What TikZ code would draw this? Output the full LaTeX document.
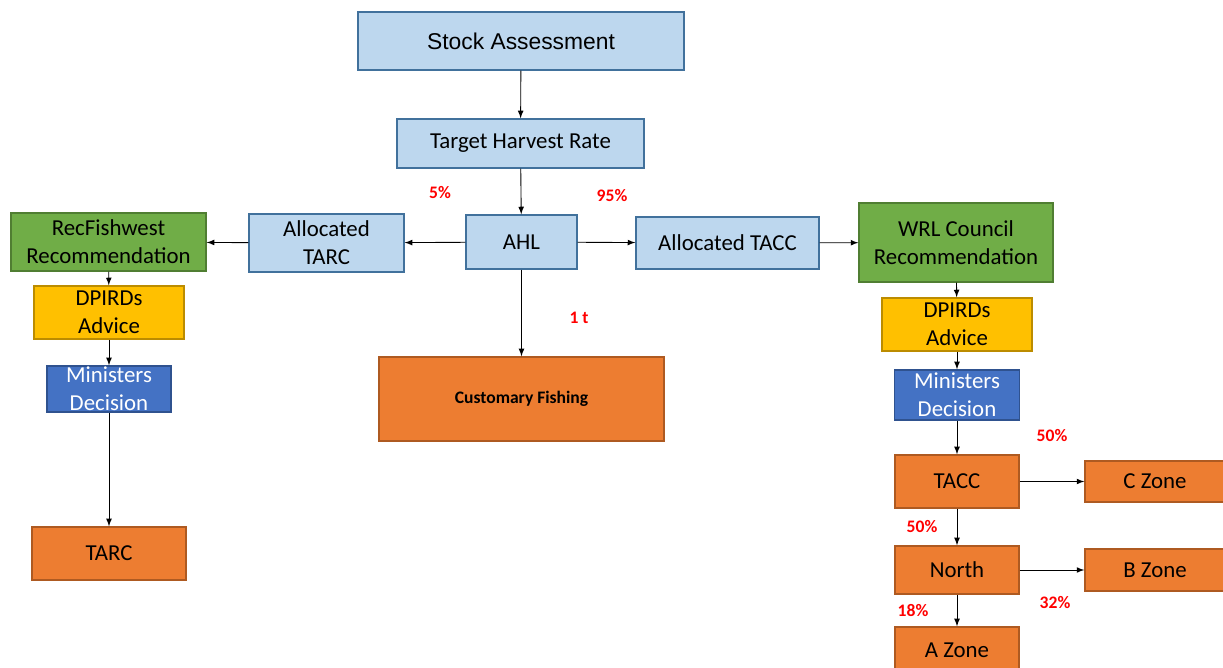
\documentclass[tikz,border=0pt]{standalone}
\usepackage{fontspec}
\setmainfont{Carlito}
\newfontfamily\arialfont{Liberation Sans}
\usepackage{tikz}

\definecolor{paleblue}{HTML}{BDD7EE}
\definecolor{paleblueline}{HTML}{41719C}
\definecolor{leafgreen}{HTML}{70AD47}
\definecolor{leafgreenline}{HTML}{507E32}
\definecolor{gold}{HTML}{FFC000}
\definecolor{goldline}{HTML}{BC8C00}
\definecolor{royal}{HTML}{4472C4}
\definecolor{royalline}{HTML}{2F528F}
\definecolor{tangerine}{HTML}{ED7D31}
\definecolor{tangerineline}{HTML}{AE5A21}

\begin{document}
\begin{tikzpicture}[%
	x=0.02cm, y=-0.02cm,
	box/.style = {shape=rectangle, draw, line width=0.8pt, inner sep=0pt, align=center,
		font=\fontsize{13}{16}\selectfont},
	pale/.style = {box, fill=paleblue, draw=paleblueline},
	leaf/.style = {box, fill=leafgreen, draw=leafgreenline},
	advice/.style = {box, fill=gold, draw=goldline},
	minister/.style = {box, fill=royal, draw=royalline, text=white},
	quota/.style = {box, fill=tangerine, draw=tangerineline},
	share/.style = {text=red, font=\fontsize{10}{12}\selectfont\bfseries},
	flow/.style = {draw, line width=0.5pt, -latex}
	]
  \useasboundingbox (0,0) rectangle (1223,668);
  \node [pale, minimum width=326*0.02cm, minimum height=58*0.02cm, font=\arialfont\fontsize{13}{16}\selectfont] (stock) at (521,41) {Stock Assessment};
  \node [pale, minimum width=247*0.02cm, minimum height=49*0.02cm] (thr) at (520.5,143.5) {Target Harvest Rate};
  \node [pale, minimum width=111*0.02cm, minimum height=54*0.02cm] (ahl) at (521.5,242) {AHL};
  \node [pale, minimum width=155*0.02cm, minimum height=58*0.02cm] (atarc) at (326.5,243) {Allocated\\TARC};
  \node [pale, minimum width=183*0.02cm, minimum height=52*0.02cm] (atacc) at (727.5,243) {Allocated TACC};
  \node [quota, minimum width=285*0.02cm, minimum height=84*0.02cm, font=\fontsize{10}{12}\selectfont\bfseries] (cust) at (521.5,399) {Customary Fishing};
  % recreational side
  \node [leaf, minimum width=195*0.02cm, minimum height=58*0.02cm] (recfw) at (108.5,242) {RecFishwest\\Recommendation};
  \node [advice, minimum width=150*0.02cm, minimum height=53*0.02cm] (dpl) at (109,312.5) {DPIRDs\\Advice};
  \node [minister, minimum width=124*0.02cm, minimum height=46*0.02cm] (minl) at (109,389) {Ministers\\Decision};
  \node [quota, minimum width=154*0.02cm, minimum height=53*0.02cm] (tarc) at (109,553.5) {TARC};
  % commercial side
  \node [leaf, minimum width=194*0.02cm, minimum height=79*0.02cm] (wrl) at (956,242.5) {WRL Council\\Recommendation};
  \node [advice, minimum width=150*0.02cm, minimum height=53*0.02cm] (dpr) at (957,324.5) {DPIRDs\\Advice};
  \node [minister, minimum width=125*0.02cm, minimum height=50*0.02cm] (minr) at (957,395) {Ministers\\Decision};
  \node [quota, minimum width=124*0.02cm, minimum height=53*0.02cm] (tacc) at (957,481.5) {TACC};
  \node [quota, minimum width=124*0.02cm, minimum height=48*0.02cm] (north) at (957,570) {North};
  \node [quota, minimum width=124*0.02cm, minimum height=46*0.02cm] (azone) at (957,650) {A Zone};
  \node [quota, minimum width=140*0.02cm, minimum height=41*0.02cm] (czone) at (1155,481.5) {C Zone};
  \node [quota, minimum width=140*0.02cm, minimum height=42*0.02cm] (bzone) at (1155,570) {B Zone};
  % shares
  \node [share] (s5) at (440,193) {5\%};
  \node [share] (s95) at (612,196) {95\%};
  \node [share] (s1t) at (579,318) {1 t};
  \node [share] (sc) at (1052,436) {50\%};
  \node [share] (sn) at (922,527) {50\%};
  \node [share] (sa) at (913,611) {18\%};
  \node [share] (sb) at (1055,603) {32\%};

  \draw [flow] (stock) -- (thr);
  \draw [flow] (thr) -- (ahl);
  \draw [flow] (ahl) -- (atarc);
  \draw [flow] (ahl) -- (atacc);
  \draw [flow] (ahl) -- (cust);
  \draw [flow] (atarc) -- (recfw);
  \draw [flow] (recfw) -- (dpl);
  \draw [flow] (dpl) -- (minl);
  \draw [flow] (minl) -- (tarc);
  \draw [flow] (atacc) -- (wrl);
  \draw [flow] (wrl) -- (dpr);
  \draw [flow] (dpr) -- (minr);
  \draw [flow] (minr) -- (tacc);
  \draw [flow] (tacc) -- (czone);
  \draw [flow] (tacc) -- (north);
  \draw [flow] (north) -- (bzone);
  \draw [flow] (north) -- (azone);
\end{tikzpicture}
\end{document}
